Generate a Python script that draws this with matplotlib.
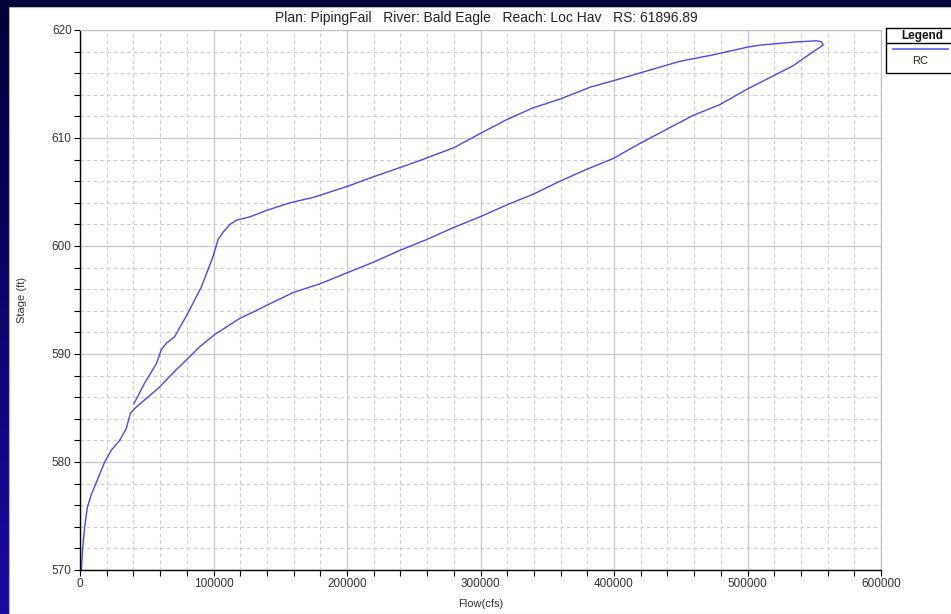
import matplotlib.pyplot as plt
import numpy as np
from matplotlib.colors import to_rgb
from matplotlib.patches import Rectangle
from matplotlib.ticker import MultipleLocator

plt.rcParams['font.family'] = ['Liberation Sans', 'DejaVu Sans']

# Rising limb of the loop (start -> peak)
rising_flow = [40400, 48400, 57200, 60900, 64700, 70900, 80900, 90900, 99600, 103400,
               107300, 112400, 117400, 127300, 139800, 157300, 174800, 199700, 219700,
               252100, 280000, 299600, 319600, 339500, 359500, 382000, 399400, 424400,
               449400, 474300, 499400, 509300, 536800, 551700, 555500, 556700]
rising_stage = [585.4, 587.3, 589.1, 590.4, 591.0, 591.6, 593.8, 596.2, 599.0, 600.6,
                601.3, 602.0, 602.4, 602.7, 603.3, 604.0, 604.5, 605.5, 606.4,
                607.8, 609.1, 610.4, 611.7, 612.8, 613.6, 614.7, 615.3, 616.2,
                617.1, 617.7, 618.4, 618.6, 618.9, 619.0, 618.9, 618.6]

# Falling limb (peak -> end of record)
falling_flow = [549300, 534300, 516800, 499400, 479400, 459400, 439400, 419400, 399400,
                379500, 359500, 339500, 319600, 299600, 279600, 259700, 239700, 219700,
                199700, 179800, 159800, 139800, 133300, 119800, 115900, 100900, 89900,
                83400, 70900, 58400, 42200, 37700, 34700, 29700, 23500, 18500, 12200,
                8500, 5500, 3500, 2000, 1000]
falling_stage = [618.0, 616.7, 615.6, 614.5, 613.1, 612.1, 610.8, 609.5, 608.1,
                 607.1, 606.0, 604.8, 603.8, 602.7, 601.7, 600.6, 599.6, 598.5,
                 597.5, 596.5, 595.7, 594.5, 594.1, 593.3, 593.0, 591.8, 590.7,
                 589.9, 588.4, 586.8, 585.1, 584.5, 583.1, 582.0, 581.1, 580.0, 578.1,
                 577.0, 575.8, 574.0, 572.0, 570.0]

flow = rising_flow + falling_flow
stage = rising_stage + falling_stage

title = 'Plan: PipingFail   River: Bald Eagle   Reach: Loc Hav   RS: 61896.89'

W, H = 951, 614
fig = plt.figure(figsize=(W / 100, H / 100), dpi=100)

# Slide background: dark navy to blue gradient, white panel on top
bg = fig.add_axes([0, 0, 1, 1], zorder=-10)
top_c = np.array(to_rgb('#000038'))
bot_c = np.array(to_rgb('#1c0aa2'))
t = np.linspace(0, 1, 256)[:, None, None]
grad = top_c * (1 - t) + bot_c * t
bg.imshow(grad, aspect='auto', extent=[0, 1, 0, 1], transform=bg.transAxes)
bg.add_patch(Rectangle((9 / W, 0), 1, (H - 7) / H, transform=bg.transAxes,
                       facecolor='white', edgecolor='#b0b0b0', linewidth=0.8))
bg.set_xlim(0, 1)
bg.set_ylim(0, 1)
bg.axis('off')

ax = fig.add_axes([80 / W, (H - 570) / H, 801 / W, 540 / H])
ax.plot(flow, stage, color='#4848ee', linewidth=1.0)

ax.set_xlim(0, 600000)
ax.set_ylim(570, 620)
ax.xaxis.set_major_locator(MultipleLocator(100000))
ax.xaxis.set_minor_locator(MultipleLocator(20000))
ax.yaxis.set_major_locator(MultipleLocator(10))
ax.yaxis.set_minor_locator(MultipleLocator(2))

ax.grid(which='major', color='#cccccc', linewidth=1.0, linestyle='-')
ax.grid(which='minor', color='#cccccc', linewidth=0.8, linestyle=(0, (3, 3)))
ax.set_axisbelow(True)

for s in ['left', 'bottom']:
    ax.spines[s].set_color('black')
    ax.spines[s].set_linewidth(1.0)
for s in ['top', 'right']:
    ax.spines[s].set_color('#c0c0c0')

ax.tick_params(which='both', direction='out', length=4, width=0.8,
               labelsize=8.5, labelcolor='#333333', pad=2)

ax.set_xlabel('Flow(cfs)', fontsize=8, color='#333333', labelpad=6)
fig.text(22 / W, 1 - 300 / H, 'Stage (ft)', rotation=90, ha='center', va='center',
         fontsize=8, color='#333333')
fig.text(486 / W, 1 - 18 / H, title, ha='center', va='center', fontsize=10, color='#222222')

# Legend box in the top right corner
lx, ly_top, ly_bot = 886 / W, 1 - 28 / H, 1 - 73 / H
fig.patches.append(Rectangle((lx, ly_bot), 0.2, ly_top - ly_bot, transform=fig.transFigure,
                             facecolor='white', edgecolor='black', linewidth=1.0))
fig.lines.append(plt.Line2D([lx, 1.05], [1 - 43 / H, 1 - 43 / H], transform=fig.transFigure,
                            color='black', linewidth=1.0))
fig.lines.append(plt.Line2D([893 / W, 948 / W], [1 - 49 / H, 1 - 49 / H], transform=fig.transFigure,
                            color='#7777ff', linewidth=1.5))
fig.text(922 / W, 1 - 35.5 / H, 'Legend', ha='center', va='center', fontsize=8.5,
         fontweight='bold', color='#111111')
fig.text(920 / W, 1 - 61.5 / H, 'RC', ha='center', va='center', fontsize=8, color='#222222')

fig.savefig('out.png', dpi=100)
